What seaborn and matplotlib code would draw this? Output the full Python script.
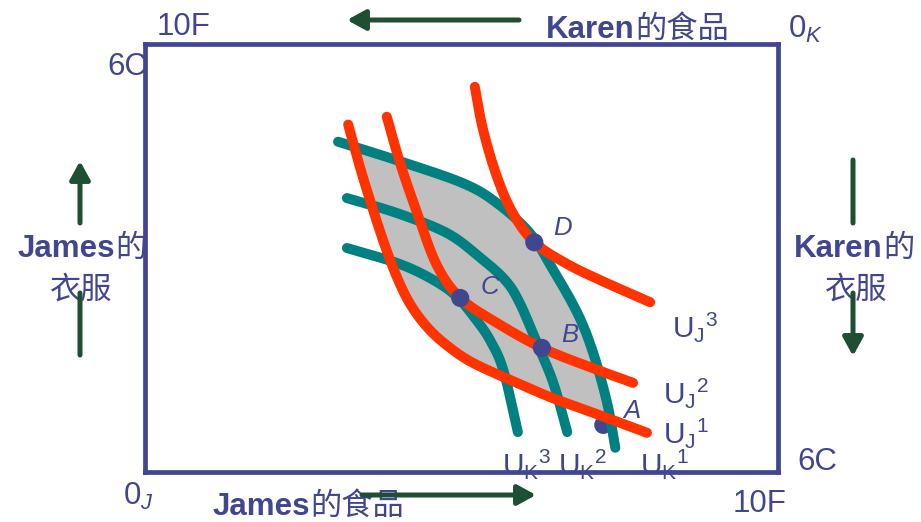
import numpy as np
import matplotlib
matplotlib.use("Agg")
import matplotlib.pyplot as plt
import seaborn as sns

# ---- data: Edgeworth box, 10 units of food (F) x 6 units of clothing (C) ----
FOOD_TOTAL = 10
CLOTH_TOTAL = 6

# James's indifference curves, measured from James's origin (bottom-left)
uj1_food = [3.21, 3.44, 3.76, 4.00, 4.22, 4.50, 4.82, 5.18, 5.77, 6.40, 7.08, 7.93]
uj1_cloth = [4.87, 4.14, 3.25, 2.69, 2.31, 1.99, 1.74, 1.53, 1.29, 1.05, 0.83, 0.55]
uj2_food = [3.82, 4.03, 4.30, 4.61, 4.98, 5.56, 6.27, 7.03, 7.71]
uj2_cloth = [4.98, 4.33, 3.63, 2.90, 2.44, 2.09, 1.74, 1.47, 1.25]
uj3_food = [5.21, 5.34, 5.56, 5.81, 6.15, 6.64, 7.19, 7.98]
uj3_cloth = [5.40, 4.80, 4.14, 3.63, 3.22, 2.93, 2.69, 2.38]

# Karen's indifference curves (same box coordinates)
uk1_food = [3.05, 3.98, 5.02, 5.56, 6.08, 6.43, 6.83, 7.08, 7.30, 7.43]
uk1_cloth = [4.63, 4.37, 4.05, 3.77, 3.35, 2.86, 2.23, 1.67, 0.97, 0.34]
uk2_food = [3.19, 3.98, 4.77, 5.29, 5.69, 5.92, 6.19, 6.45, 6.67]
uk2_cloth = [3.84, 3.63, 3.35, 3.01, 2.69, 2.37, 1.81, 1.25, 0.56]
uk3_food = [3.19, 3.98, 4.50, 4.90, 5.21, 5.45, 5.66, 5.89]
uk3_cloth = [3.14, 2.93, 2.72, 2.48, 2.16, 1.85, 1.43, 0.56]

# Allocations
point_names = ["A", "B", "C", "D"]
point_food = [7.24, 6.27, 4.98, 6.15]
point_cloth = [0.66, 1.74, 2.44, 3.22]

# ---- styling ----
W, H = 921, 522
NAVY = "#40468f"
RED = "#ff3300"
TEAL = "#008080"
GREEN = "#1e4f33"
GRAY = "#c0c0c0"
LATIN = ["Liberation Sans", "DejaVu Sans"]
CJK = ["Noto Sans CJK SC", "DejaVu Sans"]

sns.set_theme(style="white")
plt.rcParams["font.family"] = LATIN
plt.rcParams["mathtext.fontset"] = "custom"
plt.rcParams["mathtext.rm"] = "Liberation Sans"
plt.rcParams["mathtext.it"] = "Liberation Sans:italic"
plt.rcParams["mathtext.bf"] = "Liberation Sans:bold"


def smooth(xs, ys, n=24):
    """Catmull-Rom curve through the given points."""
    p = np.column_stack([xs, ys]).astype(float)
    p = np.vstack([2 * p[0] - p[1], p, 2 * p[-1] - p[-2]])
    out = []
    for i in range(1, len(p) - 2):
        p0, p1, p2, p3 = p[i - 1], p[i], p[i + 1], p[i + 2]
        for t in np.linspace(0, 1, n, endpoint=False):
            t2, t3 = t * t, t * t * t
            out.append(0.5 * ((2 * p1) + (-p0 + p2) * t
                              + (2 * p0 - 5 * p1 + 4 * p2 - p3) * t2
                              + (-p0 + 3 * p1 - 3 * p2 + p3) * t3))
    out.append(p[-2])
    out = np.array(out)
    return out[:, 0], out[:, 1]


fig = plt.figure(figsize=(W / 100, H / 100), dpi=100)
box_l, box_r, box_t, box_b = 145, 778, 44, 472
ax = fig.add_axes([box_l / W, 1 - box_b / H, (box_r - box_l) / W, (box_b - box_t) / H])
ax.set_xlim(0, FOOD_TOTAL)
ax.set_ylim(0, CLOTH_TOTAL)
ax.set_xticks([])
ax.set_yticks([])
for sp in ax.spines.values():
    sp.set_visible(True)
    sp.set_color(NAVY)
    sp.set_linewidth(3.4)
    sp.set_zorder(10)

# Curves
uj1 = smooth(uj1_food, uj1_cloth)
uj2 = smooth(uj2_food, uj2_cloth)
uj3 = smooth(uj3_food, uj3_cloth)
uk1 = smooth(uk1_food, uk1_cloth)
uk2 = smooth(uk2_food, uk2_cloth)
uk3 = smooth(uk3_food, uk3_cloth)

# Shaded lens between U_J^1 and U_K^1 (mutually beneficial trades)
kx, ky = uk1
jx, jy = uj1
inside = (kx >= jx[0]) & (ky > np.interp(kx, jx, jy))
lens_kx, lens_ky = kx[inside], ky[inside]
sel = (jx >= lens_kx[0]) & (jx <= lens_kx[-1])
poly_x = np.concatenate([lens_kx, jx[sel][::-1]])
poly_y = np.concatenate([lens_ky, jy[sel][::-1]])
ax.fill(poly_x, poly_y, color=GRAY, lw=0, zorder=1)

# Dot A sits beneath the crossing lines
sns.scatterplot(x=point_food[:1], y=point_cloth[:1], s=170, color=NAVY,
                edgecolor="none", ax=ax, zorder=2, legend=False)

for cx, cy in (uk1, uk2, uk3):
    sns.lineplot(x=cx, y=cy, sort=False, estimator=None, color=TEAL,
                 linewidth=7.2, solid_capstyle="round", ax=ax, zorder=3)
for cx, cy in (uj1, uj2, uj3):
    sns.lineplot(x=cx, y=cy, sort=False, estimator=None, color=RED,
                 linewidth=7.2, solid_capstyle="round", ax=ax, zorder=4)

sns.scatterplot(x=point_food[1:], y=point_cloth[1:], s=170, color=NAVY,
                edgecolor="none", ax=ax, zorder=5, legend=False)


def fxy(px, py):
    return px / W, 1 - py / H


def label(px, py, s, size=22.5, ha="left", va="baseline", family=None,
          weight="normal", style="normal", z=1):
    ax.text(*fxy(px, py), s, transform=fig.transFigure, ha=ha, va=va,
            fontsize=size, color=NAVY, family=family or LATIN, weight=weight,
            style=style, clip_on=False, zorder=z)


# Allocation labels
for name, (px, py) in zip(point_names, [(632, 418), (570, 342), (490, 294), (563, 235)]):
    label(px, py, name, size=18.5, ha="center", style="italic", z=6)

# Indifference-curve labels
label(672, 337, r"$\mathregular{U_J{}^3}$", size=21.5)
label(663, 403, r"$\mathregular{U_J{}^2}$", size=21.5)
label(663, 443, r"$\mathregular{U_J{}^1}$", size=21.5)
label(502, 474, r"$\mathregular{U_K{}^3}$", size=21.5)
label(558, 474, r"$\mathregular{U_K{}^2}$", size=21.5)
label(640, 474, r"$\mathregular{U_K{}^1}$", size=21.5)

# Corner quantities
label(157, 35, "10F")
label(107, 75, "6C")
label(788, 38, r"$\mathregular{0}_{K}$")
label(797, 470, "6C")
label(123, 505, r"$\mathregular{0}_{J}$")
label(733, 512, "10F")

# Axis captions: bold Latin names followed by Chinese text
label(635, 38, "Karen", ha="right", weight="bold")
label(635, 38, "的食品", family=CJK)
label(310, 515, "James", ha="right", weight="bold")
label(310, 515, "的食品", family=CJK)
label(115, 257, "James", ha="right", weight="bold")
label(115, 257, "的", family=CJK)
label(50, 299, "衣服", family=CJK)
label(883, 257, "Karen", ha="right", weight="bold")
label(883, 257, "的", family=CJK)
label(825, 299, "衣服", family=CJK)

# Direction arrows
head = "-|>,head_length=1.0,head_width=0.55"


def arrow(tail, tip, style=head):
    ax.annotate("", xy=(tip[0], H - tip[1]), xytext=(tail[0], H - tail[1]),
                xycoords="figure pixels", textcoords="figure pixels",
                arrowprops=dict(arrowstyle=style, color=GREEN, lw=3.6,
                                mutation_scale=11, shrinkA=0, shrinkB=0),
                annotation_clip=False)


arrow((519, 20), (347, 20))
arrow((362, 495), (536, 495))
arrow((80, 223), (80, 161))
arrow((80, 293), (80, 355), style="-")
arrow((853, 160), (853, 223), style="-")
arrow((853, 293), (853, 356))

fig.savefig("out.png", dpi=100)
